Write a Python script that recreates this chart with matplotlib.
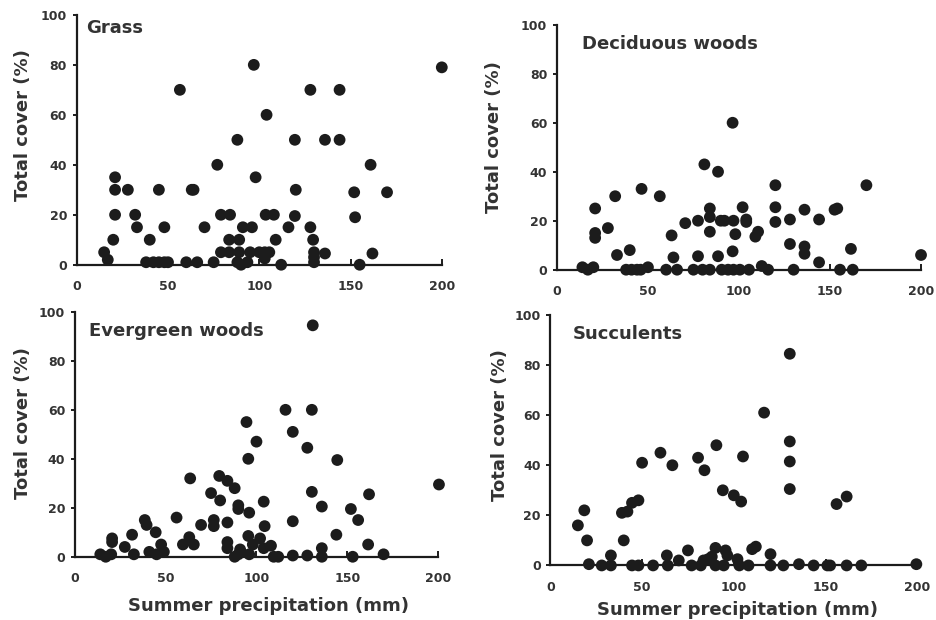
import matplotlib
matplotlib.use('Agg')
import matplotlib.pyplot as plt

# ── data ───────────────────────────────────────────────────────────────────
grass_x = [15, 17, 21, 21, 21, 20, 28, 32, 33, 40, 38, 42, 45, 48, 50, 45, 48, 56.5,
           60, 63, 64, 66, 70, 75, 77, 79, 79, 84, 83.5, 83.5, 88, 88, 89, 89, 90, 91,
           93.5, 96, 97, 95, 98, 100, 103, 103, 105.5, 104, 103.5, 108, 109, 112, 116,
           119.5, 120, 119.5, 128, 128, 129.5, 130, 130, 130, 136, 136, 144, 144, 152,
           152.5, 155, 161, 162, 170, 200]
grass_y = [5, 2, 35, 30, 20, 10, 30, 20, 15, 10, 1, 1, 1, 1, 1, 30, 15, 70,
           1, 30, 30, 1, 15, 1, 40, 20, 5, 20, 10, 5, 50, 1, 10, 5, 0, 15,
           1, 15, 80, 5, 35, 5, 5, 2.5, 5, 60, 20, 20, 10, 0, 15,
           50, 30, 19.5, 70, 15, 10, 5, 3, 1, 50, 4.5, 70, 50, 29,
           19, 0, 40, 4.5, 29, 79]

decid_x = [14, 17, 20, 21, 21, 21, 28, 32, 33, 40, 38, 41, 44, 46, 50, 46.5, 56.5, 60,
           63, 64, 66, 70.5, 75, 77.5, 77.5, 80, 81, 84, 84, 84, 84, 88.5, 88.5, 90,
           90.5, 92, 94, 96.5, 96.5, 97, 97, 98, 100.5, 102, 104, 104, 105.5, 109,
           110.5, 112.5, 116, 120, 120, 120, 128, 128, 130, 136, 136, 136, 144, 144,
           152.5, 154, 155.5, 161.5, 162.5, 170, 200]
decid_y = [1, 0, 1, 25, 15, 13, 17, 30, 6, 8, 0, 0, 0, 0, 1, 33, 30, 0,
           14, 5, 0, 19, 0, 5.5, 20, 0, 43, 0, 25, 21.5, 15.5, 40, 5.5, 20,
           0, 20, 0, 60, 7.5, 20, 0, 14.5, 0, 25.5, 20.5, 19.5, 0, 13.5,
           15.5, 1.5, 0, 34.5, 25.5, 19.5, 20.5, 10.5, 0, 24.5, 9.5, 6.5, 20.5, 3,
           24.5, 25, 0, 8.5, 0, 34.5, 6]

everg_x = [14, 17, 20, 20.5, 20.5, 27.5, 31.5, 32.5, 38.5, 39.5, 41, 44.5, 45, 47.5,
           49, 56, 59.5, 63, 63.5, 65.5, 69.5, 75, 76.5, 76.5, 79.5, 80, 84, 84, 84,
           84, 88, 88, 90, 90, 91, 90, 94.5, 95.5, 96, 95.5, 96, 98, 100, 102, 104,
           104.5, 104, 108, 109.5, 112, 116, 120, 120, 120, 128, 128, 131, 130.5,
           130.5, 136, 136, 136, 144.5, 144, 152, 153, 156, 162, 161.5, 170, 200.5]
everg_y = [1, 0, 1, 7.5, 6, 4, 9, 1, 15, 13, 2, 10, 1, 5,
           2, 16, 5, 8, 32, 5, 13, 26, 15, 12.5, 33, 23, 31, 14, 6,
           3.5, 28, 0, 21, 19.5, 3, 1, 55, 40, 18, 8.5, 1, 5, 47, 7.5, 22.5,
           12.5, 3.5, 4.5, 0, 0, 60, 51, 14.5, 0.5, 44.5, 0.5, 94.5, 60,
           26.5, 20.5, 3.5, 0, 39.5, 9, 19.5, 0, 15, 25.5, 5, 1, 29.5]

succ_x = [15, 18.5, 20, 21, 28, 33, 33, 39, 42, 40, 44.5, 48, 44.5, 48, 50, 56, 60,
          63.5, 64, 66.5, 70, 75, 77, 82, 80.5, 84, 83.5, 86, 88, 90, 90.5, 90, 94.5,
          94, 95.5, 96.5, 100, 102, 104, 105, 103, 108, 110, 112, 116.5, 120, 127,
          120, 130.5, 130.5, 130.5, 130.5, 135.5, 143.5, 151, 152.5, 156, 161.5,
          161.5, 169.5, 199.5]
succ_y = [16, 22, 10, 0.5, 0, 0, 4, 21, 21.5, 10, 25, 26, 0, 0, 41, 0, 45,
          4, 0, 40, 2, 6, 0, 0, 43, 38, 2, 2.5, 3.5, 7, 48, 0, 0,
          30, 6, 4, 28, 2.5, 25.5, 43.5, 0, 0, 6.5, 7.5, 61, 0, 0,
          4.5, 84.5, 49.5, 41.5, 30.5, 0.5, 0, 0, 0, 24.5, 27.5,
          0, 0, 0.5]

panel_titles = ["Grass", "Deciduous woods", "Evergreen woods", "Succulents"]
x_ticks = [0, 50, 100, 150, 200]
y_ticks = [0, 20, 40, 60, 80, 100]

RECTS = [
    [0.082, 0.573, 0.390, 0.403],
    [0.595, 0.565, 0.389, 0.395],
    [0.080, 0.102, 0.388, 0.395],
    [0.588, 0.088, 0.392, 0.404],
]
TITLE_POS = [(0.027, 0.985), (0.069, 0.96), (0.039, 0.96), (0.06, 0.96)]
YLAB_POS = [(-0.123, 0.558), (-0.148, 0.54), (-0.118, 0.547), (-0.114, 0.562)]
XLAB_POS = [None, None, (0.534, -0.165), (0.51, -0.143)]
INK = "#1c1c1c"
TXT = "#333333"

plt.rcParams['font.family'] = ['DejaVu Sans']
fig = plt.figure(figsize=(9.36, 6.2), dpi=100)

series = [(grass_x, grass_y), (decid_x, decid_y), (everg_x, everg_y), (succ_x, succ_y)]
for i, ((xs, ys), rect) in enumerate(zip(series, RECTS)):
    ax = fig.add_axes(rect)
    ax.scatter(xs, ys, s=72, color=INK, edgecolors='none', clip_on=False, zorder=3)
    ax.set_xlim(0, 200)
    ax.set_ylim(0, 100)
    ax.set_xticks(x_ticks)
    ax.set_yticks(y_ticks)
    for side in ('top', 'right'):
        ax.spines[side].set_visible(False)
    for side in ('left', 'bottom'):
        ax.spines[side].set_linewidth(1.6)
        ax.spines[side].set_color(INK)
    ax.tick_params(axis='y', direction='out', length=3, width=1.4, colors=INK,
                   labelcolor=TXT, labelsize=9, pad=4)
    ax.tick_params(axis='x', direction='in', length=4, width=1.4, colors=INK,
                   labelcolor=TXT, labelsize=9, pad=11)
    for lab in ax.get_xticklabels() + ax.get_yticklabels():
        lab.set_fontweight('bold')

    ax.set_ylabel("Total cover (%)", fontsize=13, fontweight='bold', color=TXT)
    ax.yaxis.set_label_coords(*YLAB_POS[i])
    if XLAB_POS[i] is not None:
        ax.set_xlabel("Summer precipitation (mm)", fontsize=13, fontweight='bold',
                      color=TXT)
        ax.xaxis.set_label_coords(*XLAB_POS[i])

    tx, ty = TITLE_POS[i]
    ax.text(tx, ty, panel_titles[i], transform=ax.transAxes, fontsize=13,
            fontweight='bold', color=TXT, va='top', ha='left')

fig.savefig("out.png", dpi=100)
